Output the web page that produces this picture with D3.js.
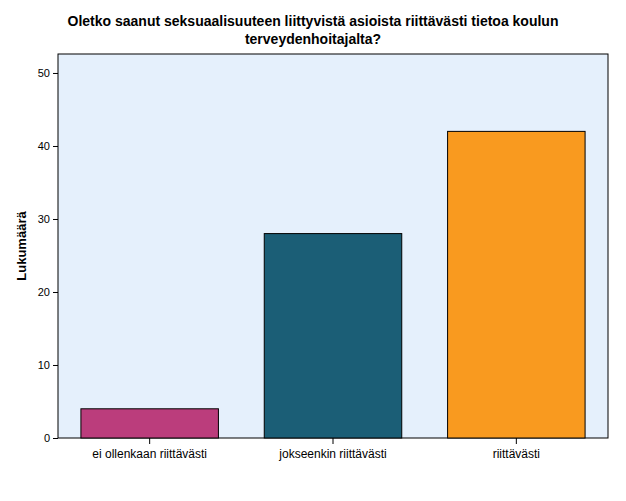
<!DOCTYPE html><html><head><meta charset="utf-8"><script src="https://cdn.jsdelivr.net/npm/d3@7"></script>
<style>body{margin:0;background:#fff}</style></head><body><svg id="c" width="626" height="501"></svg>
<script>
const categories=["ei ollenkaan riittävästi","jokseenkin riittävästi","riittävästi"];
const values=[4,28,42];
const colors=["#bb3d7c","#1b5e76","#f99a1f"];
const yTicks=[0,10,20,30,40,50];
const svg=d3.select("#c");
const L=58,R=608,T=54,B=438;
const x=d3.scaleBand().domain(categories).range([L,R]).paddingInner(0.25).paddingOuter(0.125);
const y=d3.scaleLinear().domain([0,52.6]).range([B,T]);
svg.append("rect").attr("x",L).attr("y",T).attr("width",R-L).attr("height",B-T).attr("fill","#e5f0fc").attr("stroke","#000").attr("stroke-width",1);
svg.selectAll(".bar").data(values).enter().append("rect").attr("x",(d,i)=>x(categories[i])).attr("y",d=>y(d)).attr("width",x.bandwidth()).attr("height",d=>B-y(d)).attr("fill",(d,i)=>colors[i]).attr("stroke","#000").attr("stroke-width",1);
const ya=svg.append("g").attr("transform",`translate(${L},0)`).call(d3.axisLeft(y).tickValues(yTicks).tickSize(5).tickSizeOuter(0));
ya.select(".domain").remove();
ya.selectAll("text").attr("font-family","Arial, Liberation Sans").attr("font-size",11).attr("fill","#000");
const xa=svg.append("g").attr("transform",`translate(0,${B})`).call(d3.axisBottom(x).tickSize(6).tickSizeOuter(0));
xa.select(".domain").remove();
xa.selectAll("text").attr("font-family","Arial, Liberation Sans").attr("font-size",12).attr("fill","#000").attr("dy","0.9em");
svg.append("text").attr("transform","translate(26,246) rotate(-90)").attr("text-anchor","middle").attr("font-family","Arial, Liberation Sans").attr("font-weight","bold").attr("font-size",13).text("Lukumäärä");
const t=svg.append("text").attr("text-anchor","middle").attr("font-family","Arial, Liberation Sans").attr("font-weight","bold").attr("font-size",14);
t.append("tspan").attr("x",313).attr("y",26).text("Oletko saanut seksuaalisuuteen liittyvistä asioista riittävästi tietoa koulun");
t.append("tspan").attr("x",313).attr("y",44).text("terveydenhoitajalta?");
</script></body></html>
